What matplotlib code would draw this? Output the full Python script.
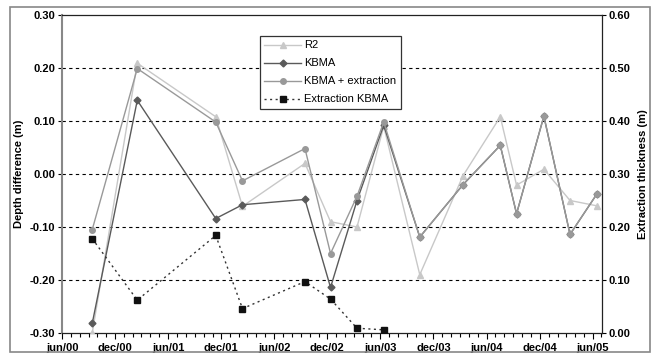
import matplotlib
matplotlib.use("Agg")
import matplotlib.pyplot as plt
import matplotlib.dates as mdates
from matplotlib.patches import Rectangle
import datetime as dt

dates = ["2000-09-13", "2001-02-15", "2001-11-12", "2002-02-12", "2002-09-15",
         "2002-12-12", "2003-03-13", "2003-06-13", "2003-10-15", "2004-03-12",
         "2004-07-18", "2004-09-12", "2004-12-15", "2005-03-15", "2005-06-15"]
r2 = [-0.30, 0.209, 0.108, -0.061, 0.020, -0.090, -0.100, 0.090, -0.190,
      -0.003, 0.108, -0.021, 0.009, -0.050, -0.060]
kbma = [-0.282, 0.139, -0.084, -0.058, -0.048, -0.214, -0.050, 0.092, -0.119,
        -0.020, 0.054, -0.075, 0.109, -0.114, -0.038]
kbma_ext = [-0.105, 0.199, 0.098, -0.013, 0.048, -0.150, -0.042, 0.098, -0.119,
            -0.020, 0.054, -0.075, 0.109, -0.114, -0.038]
ext_dates = dates[:8]
extraction = [0.178, 0.062, 0.184, 0.046, 0.097, 0.064, 0.009, 0.006]

x = [dt.datetime.strptime(d, "%Y-%m-%d") for d in dates]
xe = [dt.datetime.strptime(d, "%Y-%m-%d") for d in ext_dates]

W, H = 654, 354
fig = plt.figure(figsize=(W / 100, H / 100), dpi=100)
fig.patch.set_facecolor("white")
ax = fig.add_axes([62 / W, 1 - 333 / H, (602 - 62) / W, (333 - 15) / H])
ax2 = ax.twinx()

tickfont = dict(family=["Liberation Sans Narrow", "Liberation Sans", "DejaVu Sans"],
                weight="bold", size=8)

ax.plot(x, r2, color="#c8c8c8", lw=1.0, marker="^", ms=5, mec="#c8c8c8",
        mfc="#c8c8c8", label="R2", zorder=3)
ax.plot(x, kbma, color="#5a5a5a", lw=1.0, marker="D", ms=3.5, mec="#5a5a5a",
        mfc="#5a5a5a", label="KBMA", zorder=4)
ax.plot(x, kbma_ext, color="#999999", lw=1.0, marker="o", ms=4, mec="#999999",
        mfc="#999999", label="KBMA + extraction", zorder=5)
ln, = ax2.plot(xe, extraction, color="#333333", lw=1.0, ls=(0, (1.5, 2.5)),
               marker="s", ms=5, mec="#111111", mfc="#111111",
               label="Extraction KBMA", zorder=6)

ax.set_ylim(-0.30, 0.30)
ax2.set_ylim(0.0, 0.60)
ax.set_xlim(dt.datetime(2000, 6, 1), dt.datetime(2005, 7, 3))

ax.set_yticks([-0.30, -0.20, -0.10, 0.00, 0.10, 0.20, 0.30])
ax.set_yticklabels(["-0.30", "-0.20", "-0.10", "0.00", "0.10", "0.20", "0.30"])
ax2.set_yticks([0.0, 0.1, 0.2, 0.3, 0.4, 0.5, 0.6])
ax2.set_yticklabels(["0.00", "0.10", "0.20", "0.30", "0.40", "0.50", "0.60"])

ax.xaxis.set_major_locator(mdates.MonthLocator(bymonth=[6, 12]))
ax.xaxis.set_minor_locator(mdates.MonthLocator())
ax.xaxis.set_major_formatter(
    matplotlib.ticker.FuncFormatter(
        lambda v, p: mdates.num2date(v).strftime("%b/%y").lower()))

for yv in [-0.2, -0.1, 0.0, 0.1, 0.2]:
    ax.axhline(yv, color="black", lw=0.8, ls=(0, (3, 3)), zorder=1)

ax.tick_params(axis="x", which="major", direction="out", length=4, width=0.8, pad=3)
ax.tick_params(axis="x", which="minor", direction="out", length=3, width=0.8)
ax.tick_params(axis="y", direction="out", length=3, width=0.8, pad=2)
ax2.tick_params(axis="y", direction="out", length=3, width=0.8, pad=2)
fp = matplotlib.font_manager.FontProperties(**tickfont)
fig.canvas.draw()
for lab in ax.get_xticklabels() + ax.get_yticklabels() + ax2.get_yticklabels():
    lab.set_fontproperties(fp)

ax.spines["left"].set_color("#888888")
ax.spines["left"].set_linewidth(1.5)
ax2.spines["left"].set_visible(False)
for sp in ["top", "bottom"]:
    ax.spines[sp].set_color("#222222")
    ax.spines[sp].set_linewidth(0.9)
ax2.spines["right"].set_color("#222222")
ax2.spines["right"].set_linewidth(0.9)
ax.spines["right"].set_visible(False)
ax2.spines["top"].set_visible(False)
ax2.spines["bottom"].set_visible(False)

labfont = dict(family=["Liberation Sans Narrow", "Liberation Sans", "DejaVu Sans"],
               weight="bold", size=8)
ax.set_ylabel("Depth difference (m)", labelpad=4, **labfont)
ax2.set_ylabel("Extraction thickness (m)", labelpad=5, **labfont)

h1, l1 = ax.get_legend_handles_labels()
leg = fig.legend(h1 + [ln], l1 + ["Extraction KBMA"], loc="upper left",
                 bbox_to_anchor=(260 / W, 1 - 36 / H),
                 prop=dict(family=["Liberation Sans", "DejaVu Sans"], size=8),
                 frameon=True, fancybox=False, edgecolor="#333333",
                 framealpha=1, borderpad=0.4, labelspacing=0.72,
                 handlelength=3.3, handletextpad=0.3, borderaxespad=0)
leg.get_frame().set_linewidth(0.9)

fig.add_artist(Rectangle((10 / W, 1 - 352 / H), 640 / W, 345 / H,
                         transform=fig.transFigure, fill=False,
                         edgecolor="#888888", lw=1.2))

fig.savefig("out.png", dpi=100, facecolor="white")
